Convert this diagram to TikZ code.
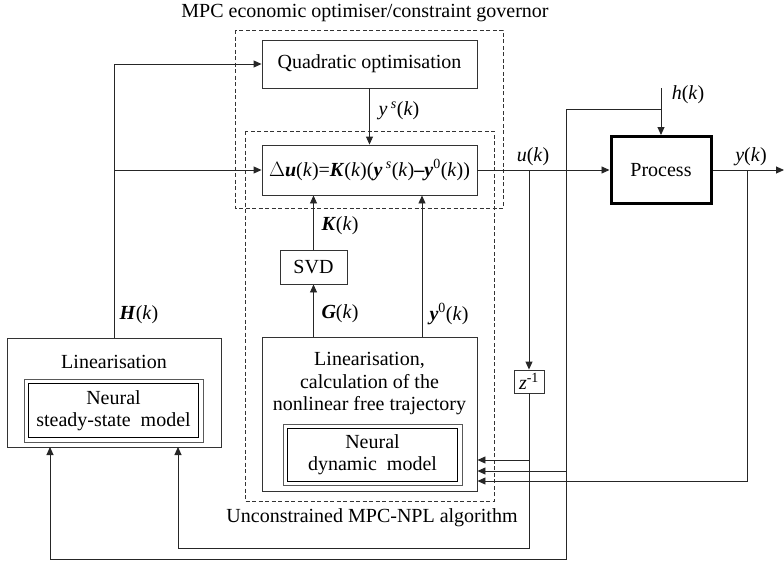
\documentclass[tikz,border=0pt]{standalone}
\usepackage{fontspec}
\setmainfont{Liberation Serif}
\usetikzlibrary{arrows.meta,calc}
\newcommand\iv[1]{\textit{#1}}
\newcommand\bv[1]{\textbf{\textit{#1}}}
\newcommand\kk{(\textit{k})}
\begin{document}
\begin{tikzpicture}[x=1pt,y=-1pt,
  every node/.style={font=\fontsize{20}{22.5}\selectfont},
  box/.style={draw=black!80, line width=0.9pt, rectangle, inner sep=0pt, align=center},
  procbox/.style={draw=black, line width=3pt, rectangle, inner sep=0pt},
  dashbox/.style={draw=black!80, line width=0.8pt, dash pattern=on 4pt off 2.5pt},
  conn/.style={draw=black!85, line width=0.9pt},
  arr/.style={conn, -{Triangle[length=8pt,width=7pt]}},
  lbl/.style={inner sep=0pt}
]
\useasboundingbox (0,0) rectangle (784,563);

% dashed groups
\draw[dashbox] (235,30) rectangle (503,208);
\draw[dashbox] (245,131) rectangle (494,501);
\node[lbl] (ttl) at (365,13.5) {MPC economic optimiser/constraint governor};
\node[lbl] (tunc) at (372,518) {Unconstrained MPC-NPL algorithm};

% blocks
\node[box, minimum width=215pt, minimum height=48pt] (qo) at (369.5,64) {Quadratic optimisation};
\node[box, minimum width=215pt, minimum height=50pt] (du) at (369.5,170)
  {$\Delta$\bv{u}\kk=\bv{K}\kk(\bv{y}\,\textsuperscript{\iv{s}}\kk\textbf{–}\bv{y}\textsuperscript{0}\kk)};
\node[procbox, minimum width=100pt, minimum height=67pt] (proc) at (661,170) {Process};
\node[box, minimum width=67pt, minimum height=34pt] (svd) at (313.5,267) {SVD};
\node[box, minimum width=30pt, minimum height=23pt] (zi) at (529,381.5) {\iv{z}\textsuperscript{-1}};

\node[box, minimum width=214pt, minimum height=109pt] (linl) at (114,392.5) {};
\node[lbl] (tlin) at (114,362) {Linearisation};
\node[box, draw=black!65, minimum width=179pt, minimum height=63pt] (ssm) at (113.5,410.5)
  {Neural\\[-1pt]steady-state~~model};
\draw[line width=0.9pt] ([shift={(5pt,-5pt)}]ssm.north west) rectangle ([shift={(-5pt,5pt)}]ssm.south east);

\node[box, minimum width=215pt, minimum height=154pt] (lin) at (369.5,414) {};
\node[lbl, align=center] (tlin2) at (369.5,384) {Linearisation,\\calculation of the\\nonlinear free trajectory};
\node[box, draw=black!65, minimum width=179pt, minimum height=61pt] (dyn) at (372.5,454.5)
  {Neural\\[-1pt]dynamic~~model};
\draw[line width=0.9pt] ([shift={(5pt,-4.5pt)}]dyn.north west) rectangle ([shift={(-5pt,4.5pt)}]dyn.south east);

% helper coordinates
\coordinate (y0x) at (422,300);
\coordinate (hx) at (566,300);
\coordinate (yx) at (747,300);
\coordinate (r1) at (300,460);
\coordinate (r2) at (300,471);
\coordinate (r3) at (300,481);
\coordinate (b1) at (300,548);
\coordinate (b2) at (300,559);
\coordinate (lz) at (178,447);
\coordinate (lh) at (50,447);
\coordinate (htop) at (661,88);
\coordinate (hj) at (661,109);
\coordinate (yend) at (784,170);

% connectors
\draw[arr] (linl.north) -- (linl.north |- qo.west) -- (qo.west);
\draw[arr] (linl.north |- du.west) -- (du.west);
\draw[arr] (qo.south) -- (du.north);
\draw[arr] (svd.north) -- (svd.north |- du.south);
\draw[arr] (svd.south |- lin.north) -- (svd.south);
\draw[arr] (lin.north -| y0x) -- (du.south -| y0x);
\draw[arr] (du.east) -- (proc.west);
\draw[arr] (du.east -| zi.north) -- (zi.north);
\draw[arr] (zi.south) -- (zi.south |- b1) -| (lz);
\draw[arr] (zi.south |- r1) -- (lin.east |- r1);
\draw[arr] (htop) -- (proc.north);
\draw[arr] (hj) -- (hj -| hx) -- (hx |- b2) -| (lh);
\draw[arr] (hx |- r2) -- (lin.east |- r2);
\draw[arr] (proc.east) -- (yend);
\draw[arr] (proc.east -| yx) -- (yx |- r3) -- (lin.east |- r3);

% labels
\node[lbl] (tys) at (399,111) {\iv{y}\,\textsuperscript{\iv{s}}\kk};
\node[lbl] (tu) at (533,157) {\iv{u}\kk};
\node[lbl] (th) at (688,95) {\iv{h}\kk};
\node[lbl] (ty) at (751,157) {\iv{y}\kk};
\node[lbl] (tH) at (139,315) {\bv{H}\kk};
\node[lbl] (tK) at (340,226) {\bv{K}\kk};
\node[lbl] (tG) at (340,314) {\bv{G}\kk};
\node[lbl] (ty0) at (449,314) {\bv{y}\textsuperscript{0}\kk};
\end{tikzpicture}
\end{document}
